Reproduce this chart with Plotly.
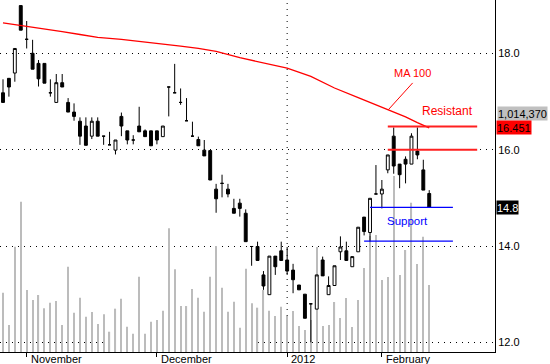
import plotly.graph_objects as go

# ---------------- data ----------------
opens = [17.18, 17.48, 17.59, 18.99, 18.29, 18.00, 17.79, 17.79, 17.18, 16.98,
         17.39, 16.98, 16.78, 16.59, 16.49, 16.28, 16.59, 16.28, 16.10, 15.99,
         16.69, 16.39, 16.20, 16.49, 16.39, 16.39, 16.39, 16.27, 17.30, 17.18,
         16.98, 16.60, 16.28, 16.21, 15.99, 15.98, 15.18, 15.30, 15.18, 14.78,
         14.89, 14.68, 13.99, 13.99, 13.40, 12.99, 13.79, 13.90, 13.71, 13.50,
         13.19, 13.00, 12.80, 12.69, 13.71, 12.99, 13.18, 13.88, 13.90, 13.57,
         13.88, 14.60, 14.28, 15.08, 15.08, 15.58, 16.28, 15.70, 15.80, 15.70,
         15.97, 15.58, 15.09]
highs = [17.46, 17.48, 18.10, 18.99, 18.67, 18.28, 17.86, 17.79, 17.46, 17.57,
         17.57, 17.07, 16.96, 16.67, 16.67, 16.67, 16.67, 16.28, 16.37, 16.20,
         16.77, 16.39, 16.30, 16.89, 16.42, 16.39, 16.39, 16.49, 17.30, 17.78,
         17.27, 17.07, 16.58, 16.27, 16.20, 15.98, 15.29, 15.48, 15.29, 14.98,
         14.98, 14.76, 13.99, 14.09, 13.48, 13.79, 13.79, 14.09, 13.98, 13.63,
         13.19, 13.00, 12.80, 13.40, 13.78, 13.37, 13.59, 14.20, 14.09, 13.78,
         14.39, 14.60, 14.99, 15.68, 15.37, 15.89, 16.46, 15.70, 15.86, 16.34,
         16.46, 15.79, 15.16]
lows = [16.98, 17.10, 17.41, 18.48, 18.10, 17.67, 17.31, 17.38, 17.10, 16.98,
        17.30, 16.78, 16.60, 16.10, 16.09, 16.22, 16.28, 16.10, 16.10, 15.90,
        16.28, 16.11, 16.11, 16.37, 16.27, 16.08, 16.11, 16.27, 16.69, 17.18,
        16.93, 16.60, 16.27, 16.08, 15.87, 15.37, 14.69, 15.01, 15.01, 14.68,
        14.61, 14.09, 13.59, 13.70, 13.09, 12.99, 13.40, 13.70, 13.40, 13.02,
        13.09, 12.50, 12.00, 12.69, 13.38, 12.99, 13.18, 13.71, 13.70, 13.57,
        13.88, 14.22, 14.09, 15.08, 14.78, 15.51, 15.50, 15.20, 15.30, 15.70,
        15.80, 15.16, 14.80]
closes = [16.98, 17.30, 18.10, 18.48, 18.29, 17.67, 17.47, 17.38, 17.18, 17.39,
          17.30, 16.78, 16.69, 16.28, 16.09, 16.59, 16.28, 16.28, 16.10, 16.20,
          16.49, 16.20, 16.20, 16.37, 16.27, 16.08, 16.20, 16.49, 17.30, 17.18,
          16.98, 16.60, 16.28, 16.08, 15.87, 15.37, 14.98, 15.30, 15.08, 14.68,
          14.78, 14.09, 13.99, 13.70, 13.17, 13.79, 13.57, 13.70, 13.48, 13.30,
          13.09, 12.50, 12.80, 13.40, 13.38, 13.18, 13.59, 13.98, 13.70, 13.78,
          14.39, 14.30, 14.99, 15.08, 15.18, 15.89, 15.66, 15.48, 15.70, 16.28,
          15.89, 15.16, 14.80]
# volume in thousands of shares
volume_k = [898, 409, 1594, 2276, 939, 787, 863, 662, 746, 772,
            409, 1291, 595, 822, 534, 606, 424, 571, 307, 656,
            807, 383, 277, 1140, 277, 459, 484, 625, 1873, 1252,
            696, 696, 954, 822, 610, 1140, 1605, 973, 610, 762,
            368, 1261, 737, 671, 939, 625, 545, 686, 545, 621,
            394, 333, 484, 1590, 394, 409, 757, 515, 818, 379,
            787, 1272, 1756, 1771, 1090, 1136, 2665, 1166, 1544, 2260,
            1332, 1746, 1014.37]
bar_index = list(range(len(opens)))

# 100-day moving average, read at selected bars
ma_index = [0, 3, 6, 10, 13, 16, 20, 23, 27, 30, 33, 36, 40, 44, 48, 52, 56, 60, 64, 66, 68, 70, 72]
ma_value = [18.63, 18.58, 18.52, 18.45, 18.39, 18.33, 18.29, 18.25, 18.20, 18.15, 18.10,
            18.04, 17.91, 17.80, 17.69, 17.52, 17.28, 17.08, 16.88, 16.78, 16.68, 16.56, 16.451]

month_ticks = [4, 26, 48, 64]
month_labels = ["November", "December", "2012", "February"]
year_tick = 48

price_ticks = [12.0, 14.0, 16.0, 18.0]
resistance_levels = [16.48, 16.0]
support_levels = [14.8, 14.1]

# ---------------- figure ----------------
FONT = "Arial, 'Liberation Sans', sans-serif"
fig = go.Figure()

fig.add_trace(go.Bar(
    x=bar_index, y=volume_k, yaxis="y", width=0.2,
    marker=dict(color="#bcbcbc", line=dict(width=0)), showlegend=False,
))

fig.add_trace(go.Candlestick(
    x=bar_index, open=opens, high=highs, low=lows, close=closes, yaxis="y2",
    increasing=dict(line=dict(color="black", width=1), fillcolor="white"),
    decreasing=dict(line=dict(color="black", width=1), fillcolor="black"),
    whiskerwidth=0, showlegend=False,
))

fig.add_trace(go.Scatter(
    x=ma_index, y=ma_value, yaxis="y2", mode="lines",
    line=dict(color="#ff0000", width=1.3), showlegend=False,
))

shapes = []
# year gridline
shapes.append(dict(type="line", xref="x", yref="paper", x0=year_tick, x1=year_tick, y0=0, y1=1,
                   line=dict(color="black", width=1, dash="1px,5px"), layer="below"))
# resistance lines
for lvl in resistance_levels:
    shapes.append(dict(type="line", xref="x", yref="y2", x0=65.0, x1=80.1, y0=lvl, y1=lvl,
                       line=dict(color="#ff2020", width=2)))
# support lines
shapes.append(dict(type="line", xref="x", yref="y2", x0=62.0, x1=76.0,
                   y0=support_levels[0], y1=support_levels[0], line=dict(color="#0000ff", width=1.3)))
shapes.append(dict(type="line", xref="x", yref="y2", x0=61.0, x1=76.0,
                   y0=support_levels[1], y1=support_levels[1], line=dict(color="#0000ff", width=1.3)))
# MA label pointer
shapes.append(dict(type="line", xref="x", yref="y2", x0=69.2, x1=65.1, y0=17.385, y1=16.83,
                   line=dict(color="#ff0000", width=1)))

annotations = []
for pos, lab in zip(month_ticks, month_labels):
    annotations.append(dict(x=pos, y=0, xref="x", yref="paper", text=lab, showarrow=False,
                            xanchor="left", yanchor="top", xshift=2, yshift=1,
                            font=dict(family=FONT, size=11, color="black")))
annotations.append(dict(x=69.1, y=17.59, xref="x", yref="y2", text="MA 100", showarrow=False,
                        font=dict(family=FONT, size=11, color="#ff0000")))
annotations.append(dict(x=75.1, y=16.81, xref="x", yref="y2", text="Resistant", showarrow=False,
                        font=dict(family=FONT, size=12, color="#ff0000")))
annotations.append(dict(x=68.3, y=14.52, xref="x", yref="y2", text="Support", showarrow=False,
                        font=dict(family=FONT, size=11.5, color="#0000ff")))
# value boxes on the right
annotations.append(dict(x=1.0, y=0.6776, xref="paper", yref="paper",
                        text=f"{round(volume_k[-1] * 1000):,}", showarrow=False,
                        xanchor="left", yanchor="middle", xshift=2, bgcolor="#c0c0c0",
                        borderpad=0, height=13,
                        font=dict(family=FONT, size=11, color="black")))
annotations.append(dict(x=1.0, y=ma_value[-1], xref="paper", yref="y2",
                        text=f"{ma_value[-1]:.3f}", showarrow=False,
                        xanchor="left", yanchor="middle", xshift=1, bgcolor="#ff0000",
                        borderpad=0, height=13,
                        font=dict(family=FONT, size=11, color="black")))
annotations.append(dict(x=1.0, y=closes[-1], xref="paper", yref="y2",
                        text=f"{closes[-1]:.1f}", showarrow=False,
                        xanchor="left", yanchor="middle", xshift=1, bgcolor="black",
                        borderpad=0, height=13,
                        font=dict(family=FONT, size=11, color="white")))

fig.update_layout(
    width=550, height=364,
    margin=dict(l=0, r=55, t=0, b=12),
    paper_bgcolor="white", plot_bgcolor="white",
    font=dict(family=FONT, size=11, color="black"),
    showlegend=False,
    xaxis=dict(range=[-0.507, 83.11], showgrid=False, zeroline=False,
               showline=True, linecolor="black", linewidth=1,
               tickvals=month_ticks, ticktext=[""] * len(month_ticks),
               ticks="outside", ticklen=4, tickcolor="black", tickwidth=1,
               rangeslider=dict(visible=False), fixedrange=True),
    yaxis=dict(range=[0, 5329], visible=False, showgrid=False, fixedrange=True),
    yaxis2=dict(overlaying="y", side="right", range=[11.80, 19.106],
                tickvals=price_ticks, tickformat=".1f",
                showgrid=True, gridcolor="black", gridwidth=1, griddash="1px,5px",
                zeroline=False, showline=True, linecolor="black", linewidth=1,
                ticks="", tickfont=dict(family=FONT, size=11, color="black"),
                fixedrange=True),
    shapes=shapes,
    annotations=annotations,
)

fig.write_html("out.html")
